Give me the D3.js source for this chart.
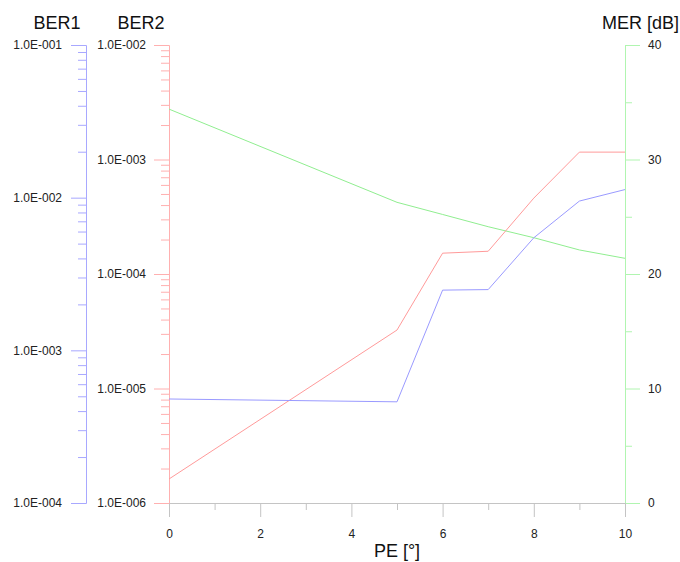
<!DOCTYPE html>
<html><head><meta charset="utf-8">
<script src="https://cdn.jsdelivr.net/npm/d3@7"></script>
<style>
body{margin:0;background:#fff;}
svg{display:block;font-family:"Liberation Sans",Arial,sans-serif;}
</style></head>
<body><svg id="c" width="680" height="562"></svg>
<script>
const pe = [0, 5, 6, 7, 8, 9, 10];
const ber1 = [4.8e-4, 4.6e-4, 2.48e-3, 2.5e-3, 5.46e-3, 9.5e-3, 1.13e-2];
const ber2 = [1.62e-6, 3.24e-5, 1.52e-4, 1.58e-4, 4.6e-4, 1.16e-3, 1.16e-3];
const mer = [34.4, 26.26, 25.2, 24.13, 23.17, 22.1, 21.37];
const xTicksMajor = [0, 2, 4, 6, 8, 10];
const xTicksMinor = [1, 3, 5, 7, 9];
const merTicksMajor = [0, 10, 20, 30, 40];
const merTicksMinor = [5, 15, 25, 35];
const ber1Major = [1e-4, 1e-3, 1e-2, 1e-1];
const ber2Major = [1e-6, 1e-5, 1e-4, 1e-3, 1e-2];
const titles = {ber1: "BER1", ber2: "BER2", mer: "MER [dB]", x: "PE [°]"};

const svg = d3.select("#c");
const plotTop = 45, plotBottom = 503;
const x = d3.scaleLinear().domain([0, 10]).range([169, 625]);
const y1 = d3.scaleLog().domain([1e-4, 1e-1]).range([plotBottom, plotTop]);
const y2 = d3.scaleLog().domain([1e-6, 1e-2]).range([plotBottom, plotTop]);
const yR = d3.scaleLinear().domain([0, 40]).range([plotBottom, plotTop]);

const fmtE = v => {
  const e = Math.round(Math.log10(v));
  const s = String(Math.abs(e)).padStart(3, "0");
  return "1.0E" + (e < 0 ? "-" : "+") + s;
};
const minorLog = (sc, majors) => sc.ticks().filter(v => !majors.some(m => Math.abs(m - v) / m < 1e-9));

function styleAxis(g, color) {
  g.selectAll("path.domain").attr("stroke", color);
  g.selectAll(".tick line").attr("stroke", color);
  g.selectAll(".tick text").attr("fill", "#222").style("font-size", "12px").style("font-family", '"Liberation Sans",Arial,sans-serif');
}

// BER1 axis
const c1 = "#a8a8ff";
const g1min = svg.append("g").attr("transform", "translate(86,0)")
  .call(d3.axisLeft(y1).tickValues(minorLog(y1, ber1Major)).tickSize(8).tickSizeOuter(0).tickFormat(""));
styleAxis(g1min, c1);
const g1 = svg.append("g").attr("transform", "translate(86,0)")
  .call(d3.axisLeft(y1).tickValues(ber1Major).tickSize(15).tickSizeOuter(0).tickPadding(9).tickFormat(fmtE));
styleAxis(g1, c1);

// BER2 axis
const c2 = "#ffb0b0";
const g2min = svg.append("g").attr("transform", "translate(169,0)")
  .call(d3.axisLeft(y2).tickValues(minorLog(y2, ber2Major)).tickSize(8).tickSizeOuter(0).tickFormat(""));
styleAxis(g2min, c2);
const g2 = svg.append("g").attr("transform", "translate(169,0)")
  .call(d3.axisLeft(y2).tickValues(ber2Major).tickSize(15).tickSizeOuter(0).tickPadding(8).tickFormat(fmtE));
styleAxis(g2, c2);

// MER axis
const c3 = "#b0f5b0";
const g3min = svg.append("g").attr("transform", "translate(625,0)")
  .call(d3.axisRight(yR).tickValues(merTicksMinor).tickSize(7).tickSizeOuter(0).tickFormat(""));
styleAxis(g3min, c3);
const g3 = svg.append("g").attr("transform", "translate(625,0)")
  .call(d3.axisRight(yR).tickValues(merTicksMajor).tickSize(15).tickSizeOuter(0).tickPadding(8).tickFormat(d3.format("d")));
styleAxis(g3, c3);

// X axis
const cx = "#c4c4c4";
const gxmin = svg.append("g").attr("transform", `translate(0,${plotBottom})`)
  .call(d3.axisBottom(x).tickValues(xTicksMinor).tickSize(7).tickSizeOuter(0).tickFormat(""));
styleAxis(gxmin, cx);
const gx = svg.append("g").attr("transform", `translate(0,${plotBottom})`)
  .call(d3.axisBottom(x).tickValues(xTicksMajor).tickSize(14).tickSizeOuter(0).tickPadding(12).tickFormat(d3.format("d")));
styleAxis(gx, cx);

// Lines
const idx = d3.range(pe.length);
svg.append("path").datum(idx).attr("fill", "none").attr("stroke", "#90ee90").attr("stroke-width", 1)
  .attr("d", d3.line().x(i => x(pe[i])).y(i => yR(mer[i])));
svg.append("path").datum(idx).attr("fill", "none").attr("stroke", "#ff9a9a").attr("stroke-width", 1)
  .attr("d", d3.line().x(i => x(pe[i])).y(i => y2(ber2[i])));
svg.append("path").datum(idx).attr("fill", "none").attr("stroke", "#9a9aff").attr("stroke-width", 1)
  .attr("d", d3.line().x(i => x(pe[i])).y(i => y1(ber1[i])));

// Titles
const tf = g => g.attr("fill", "#111").style("font-size", "18px");
svg.append("text").attr("x", 57).attr("y", 29).attr("text-anchor", "middle").text(titles.ber1).call(tf);
svg.append("text").attr("x", 141).attr("y", 29).attr("text-anchor", "middle").text(titles.ber2).call(tf);
svg.append("text").attr("x", 679).attr("y", 29).attr("text-anchor", "end").text(titles.mer).call(tf);
svg.append("text").attr("x", 397).attr("y", 557).attr("text-anchor", "middle").text(titles.x).call(tf);
</script></body></html>
